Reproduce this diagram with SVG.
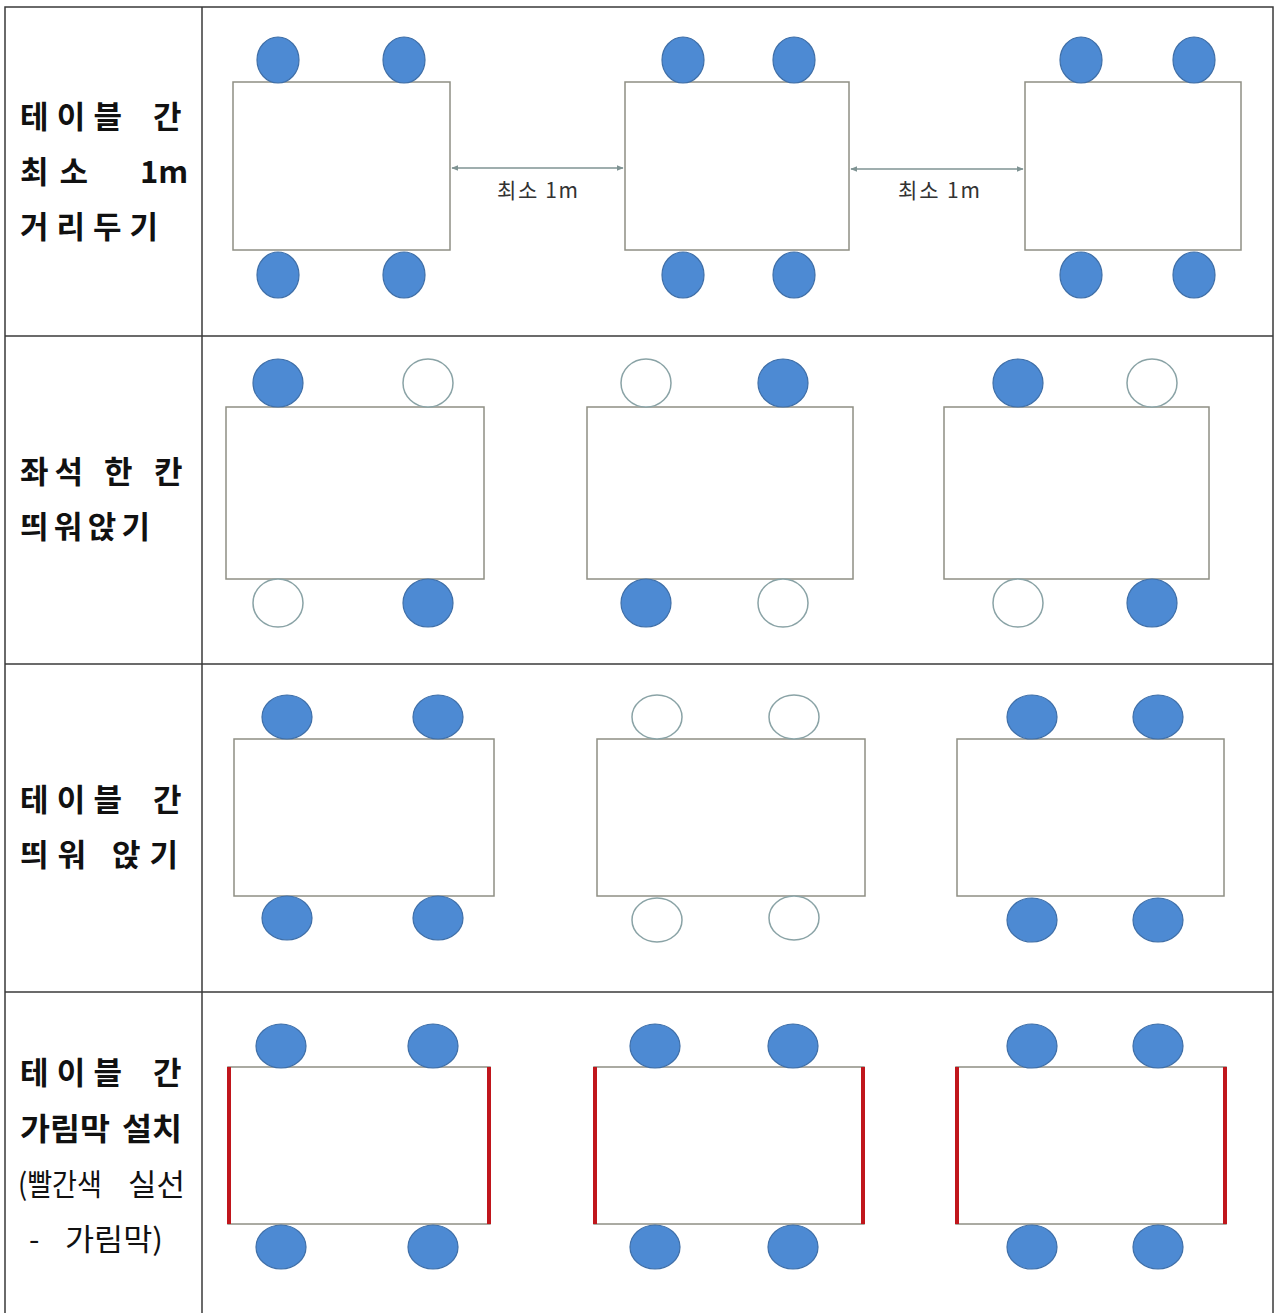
<svg xmlns="http://www.w3.org/2000/svg" width="1275" height="1313" viewBox="0 0 1275 1313">
<defs>
<style>
.grid{stroke:#3a3a3a;stroke-width:1.5;fill:none}
.tbl{fill:#fff;stroke:#8f8f84;stroke-width:1.5}
.on{fill:#4d8ad3;stroke:#3f6fa8;stroke-width:1.2}
.off{fill:#fff;stroke:#8aa3a6;stroke-width:1.5}
.scr{stroke:#c0161c;stroke-width:4}
.lbl{font-family:"Noto Sans CJK KR","Noto Sans",sans-serif;font-size:31px;font-weight:bold;fill:#111}
.lbln{font-family:"Noto Sans CJK KR","Noto Sans",sans-serif;font-size:30px;fill:#111}
.dim{font-family:"Noto Sans CJK KR","Liberation Sans",sans-serif;font-size:21px;fill:#333}
.arr{stroke:#7f9393;stroke-width:1.5;fill:none}
</style>
<marker id="ah" viewBox="0 0 10 10" refX="9" refY="5" markerWidth="7" markerHeight="7" orient="auto-start-reverse" markerUnits="userSpaceOnUse">
<path d="M0,1 L10,5 L0,9 z" fill="#7f9393"/>
</marker>
</defs>
<rect width="1275" height="1313" fill="#fff"/>
<g id="grid">
<rect class="grid" x="5" y="7" width="1268" height="1310"/>
<line class="grid" x1="202" y1="7" x2="202" y2="1313"/>
<line class="grid" x1="5" y1="336" x2="1273" y2="336"/>
<line class="grid" x1="5" y1="664" x2="1273" y2="664"/>
<line class="grid" x1="5" y1="992" x2="1273" y2="992"/>
</g>
<g id="labels">
<text class="lbl" x="20" y="128" textLength="102" lengthAdjust="spacing">테이블</text>
<text class="lbl" x="153" y="128">간</text>
<text class="lbl" x="20" y="183" textLength="68" lengthAdjust="spacing">최소</text>
<text class="lbl" x="140" y="183">1m</text>
<text class="lbl" x="20" y="238" textLength="138" lengthAdjust="spacing">거리두기</text>
<text class="lbl" x="20" y="483" textLength="63" lengthAdjust="spacing">좌석</text>
<text class="lbl" x="104" y="483">한</text>
<text class="lbl" x="154" y="483">칸</text>
<text class="lbl" x="20" y="538" textLength="130" lengthAdjust="spacing">띄워앉기</text>
<text class="lbl" x="20" y="811" textLength="102" lengthAdjust="spacing">테이블</text>
<text class="lbl" x="153" y="811">간</text>
<text class="lbl" x="20" y="866" textLength="66" lengthAdjust="spacing">띄워</text>
<text class="lbl" x="112" y="866" textLength="66" lengthAdjust="spacing">앉기</text>
<text class="lbl" x="20" y="1084" textLength="102" lengthAdjust="spacing">테이블</text>
<text class="lbl" x="153" y="1084">간</text>
<text class="lbl" x="20" y="1140" textLength="90" lengthAdjust="spacingAndGlyphs">가림막</text>
<text class="lbl" x="122" y="1140" textLength="60" lengthAdjust="spacingAndGlyphs">설치</text>
<text class="lbln" x="18" y="1195" textLength="84" lengthAdjust="spacingAndGlyphs">(빨간색</text>
<text class="lbln" x="128" y="1195" textLength="57" lengthAdjust="spacingAndGlyphs">실선</text>
<text class="lbln" x="29" y="1250">-</text>
<text class="lbln" x="65" y="1250" textLength="98" lengthAdjust="spacingAndGlyphs">가림막)</text>
</g>
<g id="connectors">
<line class="arr" x1="452" y1="168" x2="623" y2="168" marker-start="url(#ah)" marker-end="url(#ah)"/>
<line class="arr" x1="851" y1="169" x2="1023" y2="169" marker-start="url(#ah)" marker-end="url(#ah)"/>
<text class="dim" x="497" y="198" textLength="81" lengthAdjust="spacing">최소 1m</text>
<text class="dim" x="898" y="198" textLength="82" lengthAdjust="spacing">최소 1m</text>
</g>
<g id="row1">
<g id="r1t1"><rect class="tbl" x="233" y="82" width="217" height="168"/>
<ellipse class="on" cx="278" cy="60" rx="21" ry="23"/><ellipse class="on" cx="404" cy="60" rx="21" ry="23"/>
<ellipse class="on" cx="278" cy="275" rx="21" ry="23"/><ellipse class="on" cx="404" cy="275" rx="21" ry="23"/></g>
<g id="r1t2"><rect class="tbl" x="625" y="82" width="224" height="168"/>
<ellipse class="on" cx="683" cy="60" rx="21" ry="23"/><ellipse class="on" cx="794" cy="60" rx="21" ry="23"/>
<ellipse class="on" cx="683" cy="275" rx="21" ry="23"/><ellipse class="on" cx="794" cy="275" rx="21" ry="23"/></g>
<g id="r1t3"><rect class="tbl" x="1025" y="82" width="216" height="168"/>
<ellipse class="on" cx="1081" cy="60" rx="21" ry="23"/><ellipse class="on" cx="1194" cy="60" rx="21" ry="23"/>
<ellipse class="on" cx="1081" cy="275" rx="21" ry="23"/><ellipse class="on" cx="1194" cy="275" rx="21" ry="23"/></g>
</g>
<g id="row2">
<g id="r2t1"><rect class="tbl" x="226" y="407" width="258" height="172"/>
<ellipse class="on" cx="278" cy="383" rx="25" ry="24"/><ellipse class="off" cx="428" cy="383" rx="25" ry="24"/>
<ellipse class="off" cx="278" cy="603" rx="25" ry="24"/><ellipse class="on" cx="428" cy="603" rx="25" ry="24"/></g>
<g id="r2t2"><rect class="tbl" x="587" y="407" width="266" height="172"/>
<ellipse class="off" cx="646" cy="383" rx="25" ry="24"/><ellipse class="on" cx="783" cy="383" rx="25" ry="24"/>
<ellipse class="on" cx="646" cy="603" rx="25" ry="24"/><ellipse class="off" cx="783" cy="603" rx="25" ry="24"/></g>
<g id="r2t3"><rect class="tbl" x="944" y="407" width="265" height="172"/>
<ellipse class="on" cx="1018" cy="383" rx="25" ry="24"/><ellipse class="off" cx="1152" cy="383" rx="25" ry="24"/>
<ellipse class="off" cx="1018" cy="603" rx="25" ry="24"/><ellipse class="on" cx="1152" cy="603" rx="25" ry="24"/></g>
</g>
<g id="row3">
<g id="r3t1"><rect class="tbl" x="234" y="739" width="260" height="157"/>
<ellipse class="on" cx="287" cy="717" rx="25" ry="22"/><ellipse class="on" cx="438" cy="717" rx="25" ry="22"/>
<ellipse class="on" cx="287" cy="918" rx="25" ry="22"/><ellipse class="on" cx="438" cy="918" rx="25" ry="22"/></g>
<g id="r3t2"><rect class="tbl" x="597" y="739" width="268" height="157"/>
<ellipse class="off" cx="657" cy="717" rx="25" ry="22"/><ellipse class="off" cx="794" cy="717" rx="25" ry="22"/>
<ellipse class="off" cx="657" cy="920" rx="25" ry="22"/><ellipse class="off" cx="794" cy="918" rx="25" ry="22"/></g>
<g id="r3t3"><rect class="tbl" x="957" y="739" width="267" height="157"/>
<ellipse class="on" cx="1032" cy="717" rx="25" ry="22"/><ellipse class="on" cx="1158" cy="717" rx="25" ry="22"/>
<ellipse class="on" cx="1032" cy="920" rx="25" ry="22"/><ellipse class="on" cx="1158" cy="920" rx="25" ry="22"/></g>
</g>
<g id="row4">
<g id="r4t1"><rect class="tbl" x="228" y="1067" width="262" height="157"/>
<line class="scr" x1="229" y1="1067" x2="229" y2="1224"/><line class="scr" x1="489" y1="1067" x2="489" y2="1224"/>
<ellipse class="on" cx="281" cy="1046" rx="25" ry="22"/><ellipse class="on" cx="433" cy="1046" rx="25" ry="22"/>
<ellipse class="on" cx="281" cy="1247" rx="25" ry="22"/><ellipse class="on" cx="433" cy="1247" rx="25" ry="22"/></g>
<g id="r4t2"><rect class="tbl" x="594" y="1067" width="270" height="157"/>
<line class="scr" x1="595" y1="1067" x2="595" y2="1224"/><line class="scr" x1="863" y1="1067" x2="863" y2="1224"/>
<ellipse class="on" cx="655" cy="1046" rx="25" ry="22"/><ellipse class="on" cx="793" cy="1046" rx="25" ry="22"/>
<ellipse class="on" cx="655" cy="1247" rx="25" ry="22"/><ellipse class="on" cx="793" cy="1247" rx="25" ry="22"/></g>
<g id="r4t3"><rect class="tbl" x="956" y="1067" width="270" height="157"/>
<line class="scr" x1="957" y1="1067" x2="957" y2="1224"/><line class="scr" x1="1225" y1="1067" x2="1225" y2="1224"/>
<ellipse class="on" cx="1032" cy="1046" rx="25" ry="22"/><ellipse class="on" cx="1158" cy="1046" rx="25" ry="22"/>
<ellipse class="on" cx="1032" cy="1247" rx="25" ry="22"/><ellipse class="on" cx="1158" cy="1247" rx="25" ry="22"/></g>
</g>
</svg>
